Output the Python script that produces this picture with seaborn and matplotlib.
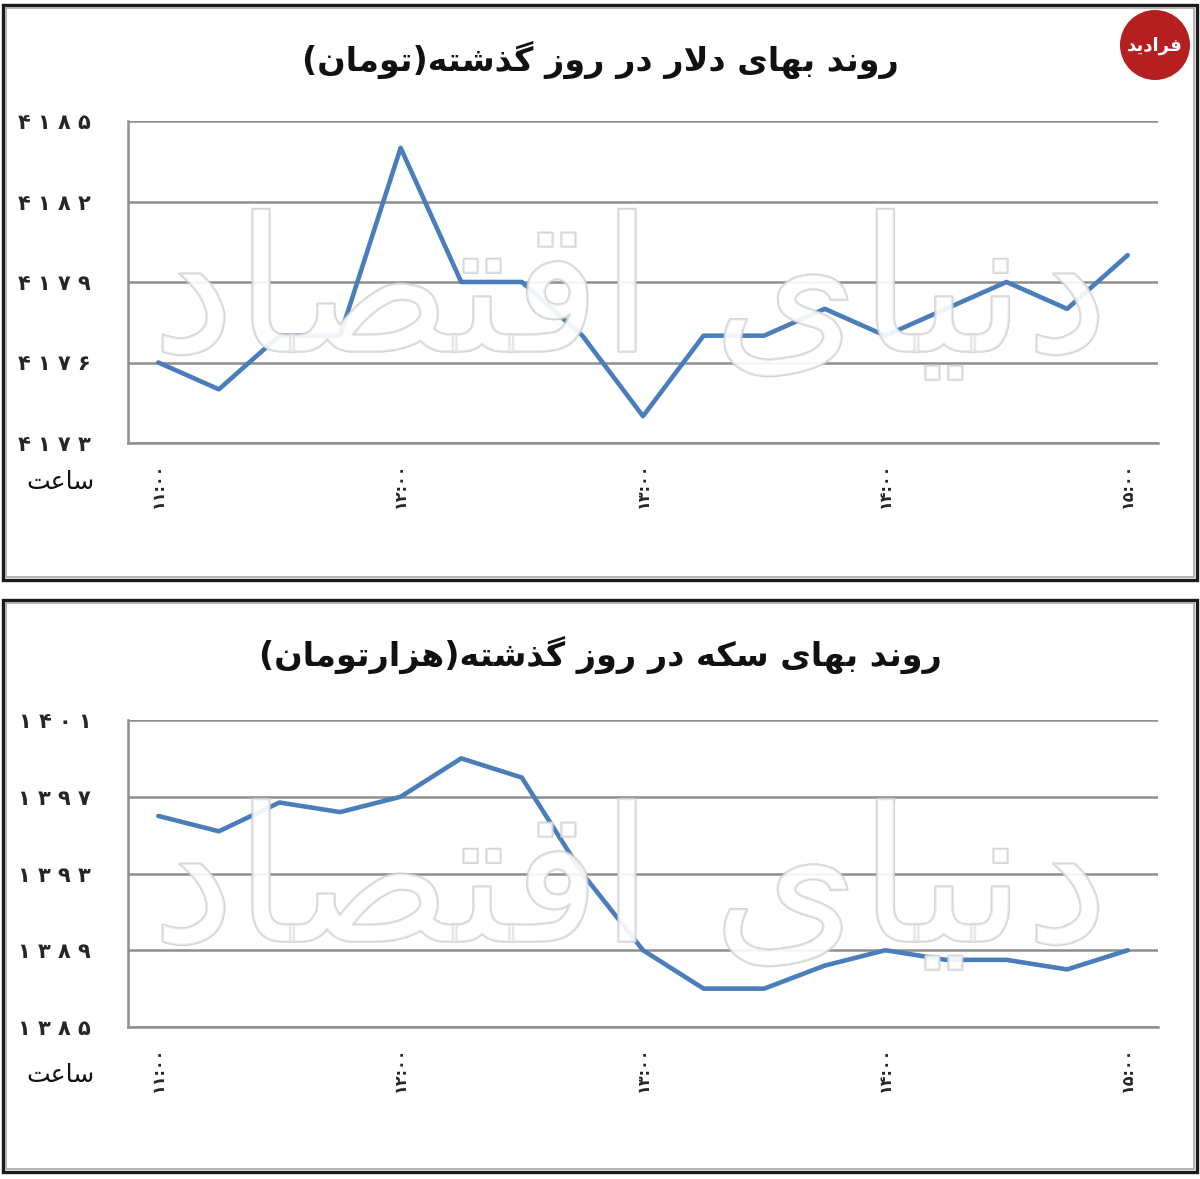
import numpy as np
import pandas as pd
import matplotlib
matplotlib.use("Agg")
import matplotlib.pyplot as plt
import seaborn as sns
from matplotlib.patches import Rectangle, Ellipse
import matplotlib.patheffects as pe

# ---------------- data ----------------
time_labels = ["۱۱:۰۰", "۱۱:۱۵", "۱۱:۳۰", "۱۱:۴۵", "۱۲:۰۰", "۱۲:۱۵", "۱۲:۳۰", "۱۲:۴۵",
               "۱۳:۰۰", "۱۳:۱۵", "۱۳:۳۰", "۱۳:۴۵", "۱۴:۰۰", "۱۴:۱۵", "۱۴:۳۰", "۱۴:۴۵", "۱۵:۰۰"]
dollar_values = [4176, 4175, 4177, 4177, 4184, 4179, 4179, 4177, 4174,
                 4177, 4177, 4178, 4177, 4178, 4179, 4178, 4180]
coin_values = [1396, 1395.2, 1396.7, 1396.2, 1397, 1399, 1398, 1393, 1389,
               1387, 1387, 1388.2, 1389, 1388.5, 1388.5, 1388, 1389]
dollar_ticks = [4173, 4176, 4179, 4182, 4185]
coin_ticks = [1385, 1389, 1393, 1397, 1401]
dollar_title = "روند بهای دلار در روز گذشته(تومان)"
coin_title = "روند بهای سکه در روز گذشته(هزارتومان)"
x_label = "ساعت"
watermark = "دنیای اقتصاد"
logo_text = "فرادید"

# ---------------- minimal Persian shaping ----------------
FORMS = {
    'ا': ('\uFE8D', '\uFE8E', None, None),
    'ب': ('\uFE8F', '\uFE90', '\uFE91', '\uFE92'),
    'ت': ('\uFE95', '\uFE96', '\uFE97', '\uFE98'),
    'د': ('\uFEA9', '\uFEAA', None, None),
    'ذ': ('\uFEAB', '\uFEAC', None, None),
    'ر': ('\uFEAD', '\uFEAE', None, None),
    'ز': ('\uFEAF', '\uFEB0', None, None),
    'س': ('\uFEB1', '\uFEB2', '\uFEB3', '\uFEB4'),
    'ش': ('\uFEB5', '\uFEB6', '\uFEB7', '\uFEB8'),
    'ص': ('\uFEB9', '\uFEBA', '\uFEBB', '\uFEBC'),
    'ع': ('\uFEC9', '\uFECA', '\uFECB', '\uFECC'),
    'ف': ('\uFED1', '\uFED2', '\uFED3', '\uFED4'),
    'ق': ('\uFED5', '\uFED6', '\uFED7', '\uFED8'),
    '\u06A9': ('\uFB8E', '\uFB8F', '\uFB90', '\uFB91'),
    '\u0643': ('\uFB8E', '\uFB8F', '\uFB90', '\uFB91'),
    'گ': ('\uFB92', '\uFB93', '\uFB94', '\uFB95'),
    'ل': ('\uFEDD', '\uFEDE', '\uFEDF', '\uFEE0'),
    'م': ('\uFEE1', '\uFEE2', '\uFEE3', '\uFEE4'),
    'ن': ('\uFEE5', '\uFEE6', '\uFEE7', '\uFEE8'),
    'ه': ('\uFEE9', '\uFEEA', '\uFEEB', '\uFEEC'),
    'و': ('\uFEED', '\uFEEE', None, None),
    '\u06CC': ('\uFBFC', '\uFBFD', '\uFBFE', '\uFBFF'),
    '\u064A': ('\uFBFC', '\uFBFD', '\uFBFE', '\uFBFF'),
}


def _dual(c):
    return c in FORMS and FORMS[c][2] is not None


def shape(text):
    out = []
    i, n = 0, len(text)
    while i < n:
        c = text[i]
        if c not in FORMS:
            out.append(c)
            i += 1
            continue
        prev = text[i - 1] if i > 0 else ''
        jp = _dual(prev)
        if c == 'ل' and i + 1 < n and text[i + 1] == 'ا':
            out.append('\uFEFC' if jp else '\uFEFB')
            i += 2
            continue
        nxt = text[i + 1] if i + 1 < n else ''
        jn = _dual(c) and nxt in FORMS
        iso, fin, ini, med = FORMS[c]
        out.append(med if (jp and jn) else fin if jp else ini if jn else iso)
        i += 1
    s = ''.join(out)[::-1]
    return s.translate(str.maketrans('()', ')('))


def fa_digits(v):
    d = '۰۱۲۳۴۵۶۷۸۹'
    return ' '.join(d[int(ch)] for ch in str(int(v)))


# ---------------- figure ----------------
sns.set_theme(style="white")
plt.rcParams['font.family'] = ['DejaVu Sans']

W, H = 1200, 1179
fig = plt.figure(figsize=(W / 100, H / 100), dpi=100)
fig.patch.set_facecolor('white')

LINE = '#4A7EBB'
GRID = '#8e8e8e'


def fx(px):
    return px / W


def fy(py):
    return 1 - py / H


def panel(top, bottom):
    fig.add_artist(Rectangle((fx(3), fy(bottom)), fx(1194), (bottom - top) / H,
                             transform=fig.transFigure, fill=False,
                             edgecolor='#1b1b1b', lw=2.4, zorder=1))
    fig.add_artist(Rectangle((fx(6), fy(bottom - 3)), fx(1188), (bottom - top - 6) / H,
                             transform=fig.transFigure, fill=False,
                             edgecolor='#a8a8a8', lw=1.2, zorder=1))


def draw_chart(ax_rect, values, ticks, title, title_y, label_y, wm_y):
    ax = fig.add_axes(ax_rect)
    df = pd.DataFrame({'slot': np.arange(len(values)), 'value': values})
    sns.lineplot(data=df, x='slot', y='value', ax=ax, color=LINE, linewidth=3.3)
    ax.set_xlim(-0.5, len(values) - 0.5)
    ax.set_ylim(ticks[0], ticks[-1])
    ax.set_yticks(ticks)
    ax.set_yticklabels([fa_digits(t) for t in ticks], fontsize=15, fontweight='bold')
    major = [i for i, t in enumerate(time_labels) if t.endswith(':۰۰')]
    ax.set_xticks(major)
    ax.set_xticklabels([time_labels[i] for i in major], rotation=90,
                       fontsize=11.5, fontweight='bold', va='top')
    ax.set_xticks(np.arange(-0.5, len(values), 1.0), minor=True)
    ax.tick_params(axis='x', which='major', length=0, pad=14)
    ax.tick_params(axis='x', which='minor', length=6, width=1.8, color=GRID, direction='out')
    ax.tick_params(axis='y', which='major', length=7.5, width=1.8, color=GRID,
                   direction='out', pad=19)
    ax.yaxis.grid(True, color=GRID, lw=1.8)
    ax.xaxis.grid(False)
    ax.set_axisbelow(True)
    for s in ['top', 'right']:
        ax.spines[s].set_visible(False)
    for s in ['left', 'bottom']:
        ax.spines[s].set_color(GRID)
        ax.spines[s].set_linewidth(1.8)
    ax.set_xlabel('')
    ax.set_ylabel('')
    ax.set_facecolor('none')

    fig.text(0.5, fy(title_y), shape(title), ha='center', va='center',
             fontsize=24, fontweight='bold', color='#111111')
    fig.text(fx(60), fy(label_y), shape(x_label), ha='center', va='center',
             fontsize=18, color='#111111')
    fig.text(fx(630), fy(wm_y), shape(watermark), ha='center', va='center',
             fontsize=135, color=(1, 1, 1, 0.45), zorder=5,
             path_effects=[pe.Stroke(linewidth=1.8, foreground='#cdcdcd', alpha=0.85),
                           pe.Normal()])
    return ax


panel(5, 580)
panel(600, 1172)

draw_chart([fx(128), fy(443), fx(1030), 322 / H], dollar_values, dollar_ticks,
           dollar_title, 60, 482, 300)
draw_chart([fx(128), fy(1027), fx(1030), 307 / H], coin_values, coin_ticks,
           coin_title, 655, 1075, 890)

# logo
fig.add_artist(Ellipse((fx(1155), fy(45)), 70 / W, 70 / H, transform=fig.transFigure,
                       facecolor='#b51f1f', edgecolor='none', zorder=6))
fig.text(fx(1155), fy(46), shape(logo_text), ha='center', va='center', fontsize=13,
         fontweight='bold', color='white', zorder=7)

fig.savefig('out.png', dpi=100, facecolor='white')
